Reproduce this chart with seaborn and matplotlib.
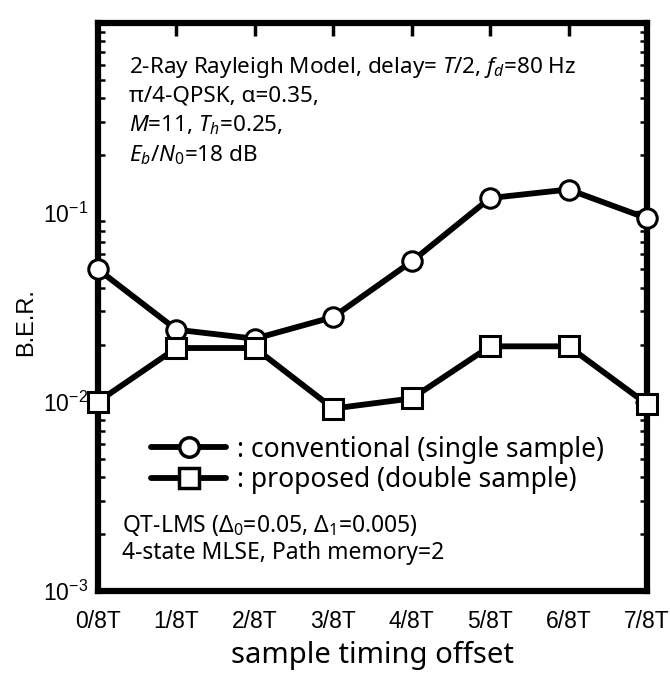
import matplotlib
matplotlib.use("Agg")
import matplotlib.pyplot as plt
import seaborn as sns
import pandas as pd
from matplotlib.lines import Line2D
from matplotlib.ticker import LogLocator

offsets = [0, 1, 2, 3, 4, 5, 6, 7]
tick_labels = ["0/8T", "1/8T", "2/8T", "3/8T", "4/8T", "5/8T", "6/8T", "7/8T"]
conventional = [0.050, 0.024, 0.0215, 0.028, 0.055, 0.119, 0.132, 0.093]
proposed = [0.0100, 0.0192, 0.0192, 0.0092, 0.0104, 0.0196, 0.0196, 0.0097]

sns.set_theme(style="white")
plt.rcParams['font.family'] = ['Liberation Sans', 'DejaVu Sans']
plt.rcParams['mathtext.fontset'] = 'custom'
plt.rcParams['mathtext.rm'] = 'Noto Sans'
plt.rcParams['mathtext.it'] = 'Noto Sans:italic'
plt.rcParams['mathtext.sf'] = 'Liberation Sans'
for k in ['text.color', 'axes.labelcolor', 'xtick.color', 'ytick.color', 'axes.edgecolor']:
    plt.rcParams[k] = 'black'
plt.rcParams['xtick.labelsize'] = 16.5
plt.rcParams['ytick.labelsize'] = 16.5

fig = plt.figure(figsize=(6.7, 6.75), dpi=100)
W, H = 670, 675
L, R, T, B = 98, 647, 23, 591
ax = fig.add_axes([L / W, 1 - B / H, (R - L) / W, (B - T) / H])

df = pd.DataFrame({"x": offsets * 2,
                   "ber": conventional + proposed,
                   "series": ["conv"] * 8 + ["prop"] * 8})

common = dict(color="black", lw=4.2, markersize=14, markerfacecolor="white",
              markeredgecolor="black", markeredgewidth=2.2, clip_on=False, zorder=5)
sns.lineplot(data=df[df.series == "conv"], x="x", y="ber", marker="o", ax=ax,
             legend=False, **common)
sns.lineplot(data=df[df.series == "prop"], x="x", y="ber", marker="s", ax=ax,
             legend=False, **common)

ax.set_yscale("log")
ax.set_ylim(1e-3, 1)
ax.set_xlim(0, 7)
ax.set_xticks(offsets)
ax.set_xticklabels(tick_labels)
ax.set_yticks([1e-3, 1e-2, 1e-1])
ax.yaxis.set_minor_locator(LogLocator(base=10, subs=range(2, 10)))
ax.tick_params(axis='both', which='major', direction='in', length=9, width=2.5,
               top=True, right=True)
ax.tick_params(axis='y', which='major', pad=7, labelsize=16.5)
ax.tick_params(axis='y', which='minor', direction='in', length=5, width=1.8,
               left=True, right=True)
ax.tick_params(axis='x', which='major', pad=14, labelsize=16.5)
for s in ax.spines.values():
    s.set_linewidth(4.5)
    s.set_color("black")

ax.set_xlabel("sample timing offset", fontsize=21, family='Noto Sans', labelpad=5)
ax.set_ylabel("B.E.R.", fontsize=17, family='Liberation Sans')
ax.yaxis.set_label_coords((37 - L) / (R - L), 1 - (322 - T) / (B - T))

def ax_y(py):
    return 1 - (py - T) / (B - T)
def ax_x(px):
    return (px - L) / (R - L)

tf = dict(family='Noto Sans', fontsize=16.2, transform=ax.transAxes, va='center', ha='left')
ax.text(ax_x(129), ax_y(67), "2-Ray Rayleigh Model, delay= $T$/2, $f_d$=80 Hz", **tf)
ax.text(ax_x(129), ax_y(96), "π/4-QPSK, α=0.35,", **tf)
ax.text(ax_x(129), ax_y(125), "$M$=11, $T_h$=0.25,", **tf)
ax.text(ax_x(129), ax_y(155), "$E_b$/$N_0$=18 dB", **tf)

tf2 = dict(family='Noto Sans', fontsize=16.5, transform=ax.transAxes, va='center', ha='left')
ax.text(ax_x(122), ax_y(526), "QT-LMS ($\\mathit{Δ}_0$=0.05, $\\mathit{Δ}_1$=0.005)", **tf2)
ax.text(ax_x(122), ax_y(553), "4-state MLSE, Path memory=2", **tf2)

handles = [
    Line2D([], [], color="black", lw=4.2, marker="o", markersize=14,
           markerfacecolor="white", markeredgecolor="black", markeredgewidth=2.5),
    Line2D([], [], color="black", lw=4.2, marker="s", markersize=14,
           markerfacecolor="white", markeredgecolor="black", markeredgewidth=2.5),
]
leg = ax.legend(handles, [": conventional (single sample)", ": proposed (double sample)"],
                loc="center left", bbox_to_anchor=(ax_x(151), ax_y(465)),
                frameon=False, handlelength=2.85, handletextpad=0.4,
                labelspacing=0.1, prop={'family': 'Noto Sans', 'size': 19},
                borderaxespad=0, borderpad=0)

fig.savefig("out.png", dpi=100)
